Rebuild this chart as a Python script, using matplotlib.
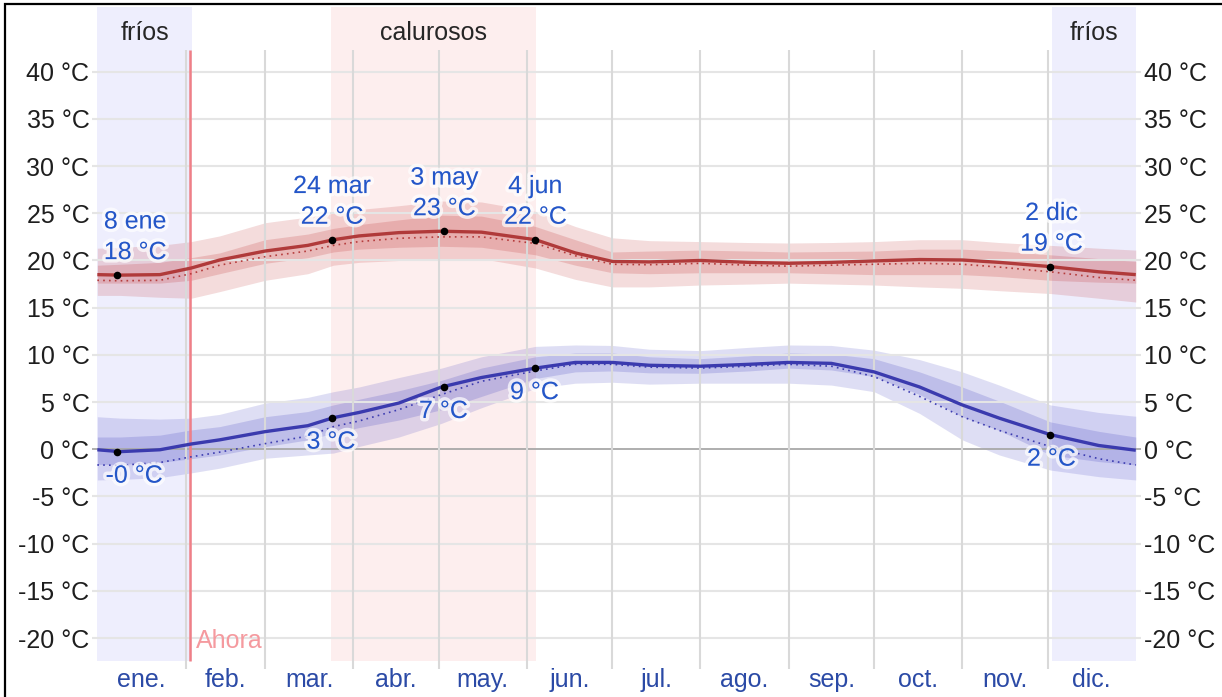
import matplotlib
matplotlib.use("Agg")
import matplotlib.pyplot as plt
import matplotlib.patheffects as pe
import matplotlib.transforms as mtransforms
from matplotlib.patches import Rectangle

plt.rcParams['font.family'] = ['Liberation Sans', 'DejaVu Sans']

# ---------------- data ----------------
days = [0, 8, 22, 33, 43, 59, 74, 83, 92, 106, 121, 135, 154, 168, 181, 194,
        212, 229, 243, 258, 273, 289, 304, 317, 335, 352, 365]

high_mean = [18.5, 18.45, 18.5, 19.2, 20.05, 21.0, 21.6, 22.2, 22.6, 22.95, 23.1, 23.0,
             22.2, 20.8, 19.9, 19.85, 20.0, 19.8, 19.7, 19.8, 19.95, 20.1, 20.05, 19.8,
             19.35, 18.8, 18.5]
high_p90 = [21.3, 21.4, 21.6, 22.0, 22.6, 24.0, 24.6, 25.0, 25.4, 25.8, 26.3, 26.2,
            25.2, 23.6, 22.4, 22.1, 22.0, 21.9, 21.85, 21.9, 22.0, 22.2, 22.2, 21.9,
            21.6, 21.3, 21.1]
high_p75 = [19.5, 19.6, 19.8, 20.3, 20.8, 22.2, 22.8, 23.4, 23.8, 24.3, 24.8, 24.7,
            23.6, 22.2, 20.9, 21.0, 21.1, 21.0, 20.9, 20.95, 21.0, 21.2, 21.2, 21.0,
            20.6, 20.2, 19.9]
high_p25 = [17.6, 17.6, 17.6, 17.9, 18.6, 19.7, 20.3, 20.9, 21.2, 21.4, 21.5, 21.4,
            20.6, 19.5, 18.7, 18.6, 18.7, 18.7, 18.7, 18.6, 18.5, 18.5, 18.5, 18.3,
            17.9, 17.7, 17.6]
high_p10 = [16.3, 16.3, 16.1, 16.0, 16.7, 17.9, 18.6, 19.5, 19.8, 20.0, 20.2, 20.2,
            19.2, 18.0, 17.2, 17.2, 17.4, 17.5, 17.6, 17.5, 17.4, 17.2, 17.05, 16.8,
            16.5, 16.0, 15.6]
high_feels = [17.9, 17.85, 17.9, 18.6, 19.5, 20.4, 21.0, 21.6, 22.0, 22.35, 22.5, 22.5,
              21.8, 20.5, 19.6, 19.55, 19.7, 19.5, 19.4, 19.5, 19.6, 19.7, 19.6, 19.3,
              18.8, 18.2, 17.9]

low_mean = [-0.05, -0.25, -0.05, 0.56, 1.0, 1.87, 2.5, 3.35, 3.9, 4.9, 6.6, 7.6,
            8.6, 9.2, 9.2, 8.9, 8.8, 9.0, 9.2, 9.1, 8.2, 6.6, 4.7, 3.3,
            1.55, 0.4, -0.1]
low_p90 = [3.45, 3.3, 3.2, 3.3, 3.7, 4.9, 5.5, 6.1, 6.6, 7.6, 8.6, 9.8,
           10.9, 11.05, 11.0, 10.6, 10.45, 10.8, 11.05, 11.0, 10.5, 9.5, 8.2, 6.8,
           4.7, 3.9, 3.5]
low_p75 = [1.3, 1.3, 1.5, 2.05, 2.4, 3.45, 4.0, 4.7, 5.3, 6.2, 7.3, 8.6,
           9.8, 10.2, 10.2, 9.8, 9.6, 9.9, 10.2, 10.1, 9.6, 8.2, 6.6, 5.1,
           2.9, 1.9, 1.3]
low_p25 = [-1.6, -1.6, -1.4, -1.0, -0.6, 0.28, 1.0, 1.7, 2.3, 3.1, 4.2, 5.6,
           7.5, 8.2, 8.3, 8.1, 8.05, 8.3, 8.6, 8.4, 7.7, 5.8, 3.45, 2.0,
           -0.6, -1.3, -1.66]
low_p10 = [-3.25, -3.2, -3.0, -2.5, -2.0, -0.95, -0.6, -0.4, 0.3, 1.3, 2.75, 4.4,
           6.45, 7.0, 7.1, 6.9, 7.0, 7.0, 7.0, 6.8, 6.1, 3.8, 1.0, -0.6,
           -2.2, -2.9, -3.25]
low_feels = [-1.66, -1.7, -1.4, -0.8, -0.3, 0.6, 1.4, 2.4, 3.0, 4.2, 5.8, 7.2,
             8.3, 9.0, 9.0, 8.7, 8.6, 8.8, 9.0, 8.8, 7.7, 5.6, 3.45, 2.0,
             0.28, -1.0, -1.66]

# annotated points: (day, value, date label)
high_marks = [(7, 18.45, "8 ene"), (82.5, 22.2, "24 mar"), (122, 23.1, "3 may"),
              (154, 22.2, "4 jun"), (335, 19.35, "2 dic")]
low_marks = [(7, -0.25), (82.5, 3.35), (122, 6.6), (154, 8.6), (335, 1.55)]

month_starts = [0, 31, 59, 90, 120, 151, 181, 212, 243, 273, 304, 334, 365]
month_labels = ["ene.", "feb.", "mar.", "abr.", "may.", "jun.", "jul.", "ago.",
                "sep.", "oct.", "nov.", "dic."]
y_ticks = [40, 35, 30, 25, 20, 15, 10, 5, 0, -5, -10, -15, -20]
y_labels = [f"{t} °C" for t in y_ticks]

cold_seasons = [(0, 33.4), (335.4, 365)]
hot_season = (82.3, 154.2)
now_day = 32.6

# ---------------- figure ----------------
W, H = 1222, 697
FS = 18
fig = plt.figure(figsize=(W / 100, H / 100), dpi=100)
ax = fig.add_axes([92.2 / W, (H - 669.25) / H, (1140.9 - 92.2) / W, 662.25 / H])
ax.set_xlim(-1.8, 366.8)
ax.set_ylim(-23.3, 46.85)
for s in ax.spines.values():
    s.set_visible(False)

band_bottom, band_top = -22.4, 46.85
for a, b in cold_seasons:
    ax.fill_between([a, b], band_bottom, band_top, color='#eeeefd', lw=0, zorder=0)
ax.fill_between(list(hot_season), band_bottom, band_top, color='#fdeeee', lw=0, zorder=0)

# grid
for t in y_ticks:
    if t == 0:
        ax.axhline(t, color='#a8a8a8', lw=1.3, zorder=3)
    else:
        ax.axhline(t, color='#e5e5e5', lw=1.5, zorder=3)
ax.vlines(month_starts[1:-1], -23.3, 42.3, color='#d9d9d9', lw=1.5, zorder=3)

# now line
ax.vlines([now_day], band_bottom, 42.3, color='#f07f86', lw=1.8, zorder=4)
ax.text(now_day + 2.2, -20, "Ahora", color='#f59a9f', fontsize=FS,
        ha='left', va='center_baseline', zorder=6)

# series bands
ax.fill_between(days, high_p10, high_p90, color=(0.75, 0.19, 0.19), alpha=0.17, lw=0, zorder=2)
ax.fill_between(days, high_p25, high_p75, color=(0.75, 0.19, 0.19), alpha=0.2, lw=0, zorder=2)
ax.fill_between(days, low_p10, low_p90, color=(0.25, 0.25, 0.75), alpha=0.17, lw=0, zorder=2)
ax.fill_between(days, low_p25, low_p75, color=(0.25, 0.25, 0.75), alpha=0.2, lw=0, zorder=2)

ax.plot(days, high_feels, color='#b53c3c', lw=1.2, ls=(0, (1, 2.5)), zorder=5)
ax.plot(days, low_feels, color='#3c3cb0', lw=1.2, ls=(0, (1, 2.5)), zorder=5)
ax.plot(days, high_mean, color='#b03a3a', lw=2.4, zorder=5, solid_capstyle='butt')
ax.plot(days, low_mean, color='#3a3aae', lw=2.4, zorder=5, solid_capstyle='butt')

halo = [pe.withStroke(linewidth=5, foreground=(1, 1, 1, 0.7))]
ann_color = '#2456c8'
for d, v, lab in high_marks:
    ax.scatter([d], [v], s=30, color='black', zorder=7, lw=0)
    dx = 18 if d < 20 else (1 if d > 300 else 0)
    ax.annotate(f"{lab}\n{v:.0f} °C", (d, v), xytext=(dx, 11), textcoords='offset pixels',
                ha='center', va='bottom', fontsize=FS, color=ann_color,
                linespacing=1.35, zorder=8, path_effects=halo)
for d, v in low_marks:
    ax.scatter([d], [v], s=30, color='black', zorder=7, lw=0)
    txt = "-0 °C" if round(v) == 0 else f"{v:.0f} °C"
    dx = 17 if d < 20 else (1 if d > 300 else -1)
    ax.annotate(txt, (d, v), xytext=(dx, -12), textcoords='offset pixels',
                ha='center', va='top', fontsize=FS, color=ann_color,
                zorder=8, path_effects=halo)

# season labels
for a, b in cold_seasons:
    ax.text((a + b) / 2, 44.1, "fríos", ha='center', va='center', fontsize=FS,
            color='#262626', zorder=6)
ax.text(sum(hot_season) / 2, 44.1, "calurosos", ha='center', va='center', fontsize=FS,
        color='#262626', zorder=6)

# y tick labels on both sides
ax.set_yticks(y_ticks)
ax.set_yticklabels(y_labels)
ax.tick_params(axis='y', length=0, pad=2, labelsize=FS, labelcolor='#1e1e1e',
               left=False, right=False, labelleft=True, labelright=True)
ax.set_xticks([])

# month labels
trans = mtransforms.offset_copy(ax.get_xaxis_transform(), fig=fig, x=0, y=-18, units='dots')
for i, lab in enumerate(month_labels):
    mid = (month_starts[i] + month_starts[i + 1]) / 2
    ax.text(mid, 0, lab, transform=trans, ha='center', va='baseline', fontsize=FS,
            color='#2b4aa6', clip_on=False)

# outer frame
fig.patches.append(Rectangle((5 / W, -0.05), 1.1, 1 - 4 / H + 0.05, transform=fig.transFigure,
                             fill=False, edgecolor='black', lw=1.6, zorder=10))

fig.savefig("out.png", dpi=100, facecolor='white')
